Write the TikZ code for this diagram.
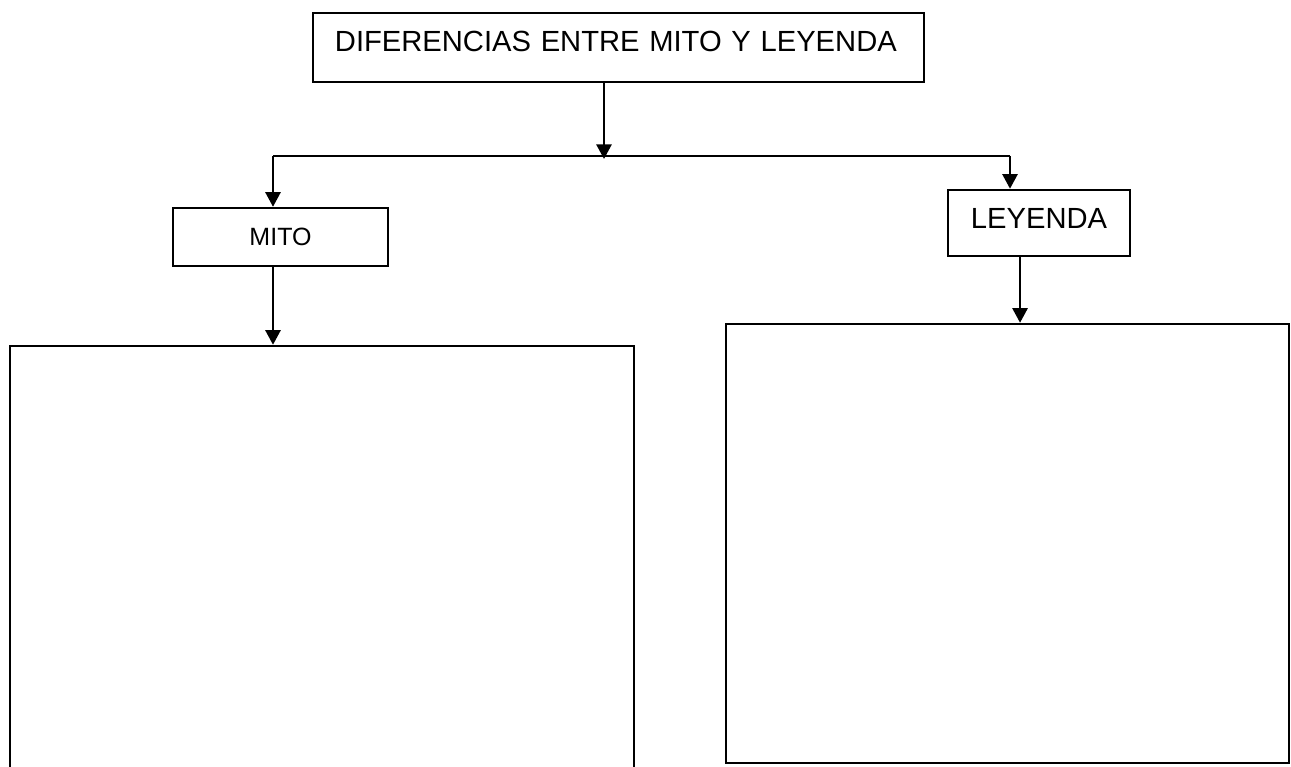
\documentclass[tikz,border=0pt]{standalone}
\usepackage{fontspec}
\setmainfont{Liberation Sans}
\usetikzlibrary{arrows.meta}
\begin{document}
\begin{tikzpicture}[x=0.48pt, y=-0.48pt,
      every node/.style = {shape=rectangle, draw, line width=1.2pt, inner sep=0pt, align=center},
      big/.style = {font=\fontsize{14}{16}\selectfont},
      small/.style = {font=\fontsize{12}{14}\selectfont},
      link/.style = {line width=1.2pt},
      arr/.style = {line width=1.2pt, -{Triangle[width=7.2pt, length=7pt]}}]
      \useasboundingbox (0,0) rectangle (1291,767);
      \node[big, minimum height=33.1pt, text width=272.2pt, inner xsep=10.56pt, align=left,
        text height=10pt, text depth=6pt] (title) at (618.5,47.5) {DIFERENCIAS ENTRE MITO Y LEYENDA};
      \node[small, minimum width=103.2pt, minimum height=27.8pt] (mito) at (280.5,237) {MITO};
      \node[big, minimum width=87.4pt, minimum height=31.7pt, text height=10pt, text depth=4.4pt] (leyenda) at (1039,223) {LEYENDA};
      \node[minimum width=299.5pt, minimum height=217.9pt] (mitobox) at (322,573) {};
      \node[minimum width=270.2pt, minimum height=210.7pt] (leyendabox) at (1007.5,543.5) {};
      % branching line
      \coordinate (hub) at (604,159);
      \coordinate (bl) at (273,156);
      \coordinate (br) at (1010,156);
      \draw[link] (bl) -- (br);
      \draw[arr] (title.south -| hub) -- (hub);
      \draw[arr] (bl) -- (bl |- mito.north);
      \draw[arr] (br) -- (br |- leyenda.north);
      \draw[arr] (mito.south -| bl) -- (bl |- mitobox.north);
      \draw[arr] ([xshift=-9.1pt]leyenda.south) -- ([xshift=-9.1pt]leyenda.south |- leyendabox.north);
    \end{tikzpicture}
\end{document}
